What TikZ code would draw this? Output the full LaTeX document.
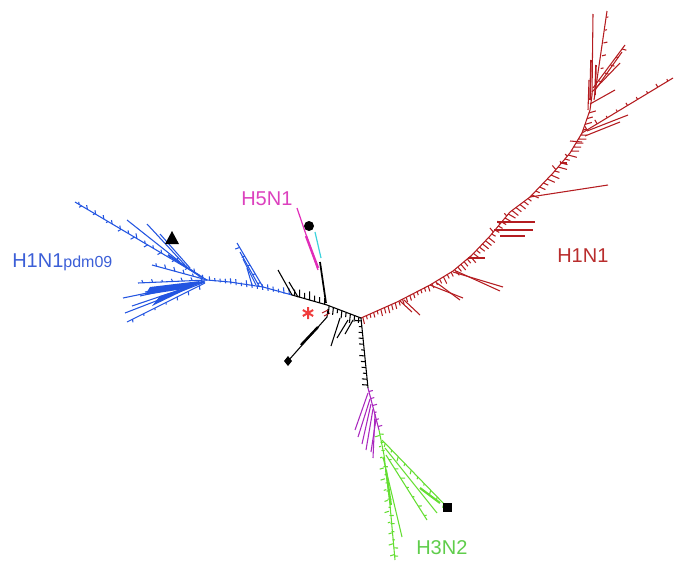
\documentclass[tikz,border=0pt]{standalone}
\usepackage{fontspec}
\setmainfont{Liberation Sans}
\usetikzlibrary{calc}
\definecolor{tred}{RGB}{180,28,32}
\definecolor{lred}{RGB}{185,45,45}
\definecolor{tblue}{RGB}{35,85,225}
\definecolor{lblue}{RGB}{60,95,215}
\definecolor{tmag}{RGB}{225,45,185}
\definecolor{lmag}{RGB}{220,65,190}
\definecolor{tcyan}{RGB}{60,210,220}
\definecolor{tpur}{RGB}{170,40,190}
\definecolor{tgreen}{RGB}{100,222,50}
\definecolor{lgreen}{RGB}{95,205,75}
\definecolor{tast}{RGB}{240,60,60}
\pgfmathsetseed{7}
\newcommand\tickrow[6]{%
  \foreach \ii in {1,...,#3}{%
    \pgfmathsetmacro\tkt{(\ii-0.5)/#3}%
    \pgfmathsetmacro\tkl{#4*(0.6+0.8*rnd)}%
    \path ($(#1)!\tkt!(#2)$) coordinate (tkp);%
    \draw[#6] (tkp) -- ($(tkp)!\tkl pt!#5:(#2)$);%
  }}
\begin{document}
\begin{tikzpicture}[x=0.75pt,y=-0.75pt,
  rbr/.style={draw=tred,line width=0.8pt},
  bbr/.style={draw=tblue,line width=0.8pt},
  kbr/.style={draw=black,line width=0.8pt},
  mbr/.style={draw=tmag,line width=0.9pt},
  cbr/.style={draw=tcyan,line width=0.9pt},
  pbr/.style={draw=tpur,line width=0.8pt},
  gbr/.style={draw=tgreen,line width=0.8pt},
  lab/.style={font=\fontsize{15}{18}\selectfont, inner sep=0pt, anchor=base west}]
\useasboundingbox (0,0) rectangle (674,561);

% ---------------- red H1N1 clade
\coordinate (R0) at (361,318);
\coordinate (R1) at (397,302);
\coordinate (R2) at (430,285);
\coordinate (R3) at (453,271);
\coordinate (R4) at (472,255);
\coordinate (R5) at (490,236);
\coordinate (R6) at (510,212);
\coordinate (R7) at (530,197);
\coordinate (R8) at (553,173);
\coordinate (R9) at (570,153);
\coordinate (R10) at (582,133);
\coordinate (R11) at (590,110);
\coordinate (R12) at (592,95);
\coordinate (R13) at (593,14);
\draw[rbr] (R0)--(R1)--(R2)--(R3)--(R4)--(R5)--(R6)--(R7)--(R8)--(R9)--(R10)--(R11)--(R12)--(R13);
\tickrow{R0}{R1}{10}{4}{-100}{rbr}
\tickrow{R1}{R2}{9}{4}{-100}{rbr}
\tickrow{R2}{R3}{6}{4.5}{-95}{rbr}
\tickrow{R3}{R4}{6}{4.5}{-90}{rbr}
\tickrow{R4}{R5}{6}{4.5}{-85}{rbr}
\tickrow{R5}{R6}{6}{4.5}{-80}{rbr}
\tickrow{R6}{R7}{5}{4.5}{-75}{rbr}
\tickrow{R7}{R8}{6}{5}{-70}{rbr}
\tickrow{R8}{R9}{5}{5}{-65}{rbr}
\tickrow{R9}{R10}{5}{5}{-60}{rbr}
\tickrow{R10}{R11}{4}{4}{-55}{rbr}
\tickrow{R5}{R6}{3}{3}{80}{rbr}
\tickrow{R8}{R9}{3}{3}{80}{rbr}
% longer red side branches
\draw[rbr] (404,300)--(420,315);
\draw[rbr] (400,301)--(412,312);
\draw[rbr] (430,285)--(463,298);
\draw[rbr] (437,283)--(460,300);
\draw[rbr] (453,272)--(503,287);
\draw[rbr] (456,271)--(500,291);
\draw[rbr] (468,258)--(485,258);
\draw[rbr] (497,222)--(535,222);
\draw[rbr] (494,230)--(533,230);
\draw[rbr] (500,236)--(525,236);
\draw[rbr] (R7)--(608,185);
\draw[rbr] (560,163)--(567,163);
\draw[rbr] (570,141)--(582,142);
% top fan
\draw[rbr] (582,133)--(673,78);
\draw[rbr] (587,131)--(628,115);
\draw[rbr] (585,136)--(620,122);
\draw[rbr] (590,104)--(615,90);
\draw[rbr] (592,92)--(620,63);
\draw[rbr] (593,88)--(625,45);
\draw[rbr] (595,90)--(622,52);
\draw[rbr] (594,100)--(607,11);
\draw[rbr,line width=1.2pt] (590,100)--(591,60);
\draw[rbr,line width=1.2pt] (595,95)--(596,65);
\draw[rbr] (588,110)--(589,80);
\tickrow{600,75}{607,11}{5}{2.5}{-70}{rbr}
\tickrow{596,85}{625,45}{5}{2.5}{-70}{rbr}
\tickrow{582,133}{673,78}{9}{2.5}{90}{rbr}

% ---------------- blue H1N1pdm09 clade
\coordinate (B0) at (292,295);
\coordinate (B1) at (263,287);
\coordinate (B2) at (230,282);
\coordinate (B3) at (207,280);
\draw[bbr] (B0)--(B1)--(B2)--(B3);
\tickrow{B0}{B3}{16}{4}{-75}{bbr}
\draw[bbr] (B1)--(237,243);
\draw[bbr] (259,286)--(240,252);
\draw[bbr] (256,285)--(243,259);
\draw[bbr] (252,285)--(247,268);
\tickrow{B1}{237,243}{5}{2.5}{80}{bbr}
% upper-left long branch
\draw[bbr] (B3)--(75,202);
\draw[bbr] (180,262)--(127,220);
\draw[bbr] (185,265)--(147,224);
\draw[bbr] (190,268)--(160,234);
\draw[bbr,line width=1.4pt] (200,276)--(168,255);
\tickrow{B3}{75,202}{16}{3}{-50}{bbr}
\tickrow{B3}{75,202}{10}{2.5}{60}{bbr}
% lower fan
\draw[bbr] (B3)--(152,265);
\draw[bbr] (B3)--(138,283);
\draw[bbr] (205,281)--(123,298);
\draw[bbr] (205,282)--(125,313);
\draw[bbr] (205,283)--(127,322);
\draw[bbr] (203,282)--(132,306);
\draw[bbr] (203,282)--(145,292);
\draw[bbr] (203,282)--(140,296);
\fill[tblue] (200,281)--(150,287)--(145,295)--(190,288)--cycle;
\fill[tblue] (195,285)--(160,296)--(152,306)--(185,290)--cycle;
\tickrow{B3}{152,265}{6}{2.5}{-60}{bbr}
\tickrow{B3}{138,283}{7}{2.5}{-70}{bbr}
\tickrow{205,283}{127,322}{7}{2.5}{70}{bbr}

% ---------------- black backbone
\coordinate (H) at (327,305);
\draw[kbr] (B0)--(H);
\tickrow{H}{B0}{7}{5}{-75}{kbr}
\draw[kbr] (B0)--(278,270);
\draw[kbr] (298,297)--(289,282);
% up to H5N1
\draw[kbr,line width=1.3pt] (326,303)--(320,262);
\draw[mbr] (297,208)--(318,270);
\draw[mbr,line width=1.8pt] (306,236)--(318,268);
\draw[cbr] (315,232)--(321,258);
% diamond branch
\draw[kbr] (327,317)--(288,361);
\draw[kbr,line width=1.8pt] (301,345)--(318,327);
\draw[kbr] (328,309)--(327,317);
% red small ticks near hub
\draw[rbr] (322,313)--(328,310);
\draw[rbr] (324,316)--(330,313);
% hub to red
\draw[kbr] (H)--(R0);
\tickrow{H}{R0}{8}{5}{-75}{kbr}
\draw[kbr] (340,318)--(331,346);
\draw[kbr] (348,320)--(337,338);
\draw[kbr] (353,320)--(345,334);
% vertical down
\coordinate (K1) at (368,388);
\draw[kbr] (R0)--(K1);
\tickrow{R0}{K1}{12}{3.5}{-100}{kbr}

% ---------------- purple
\coordinate (P1) at (379,430);
\draw[pbr] (K1)--(P1);
\draw[pbr] (368,393)--(355,430);
\draw[pbr] (370,399)--(358,437);
\draw[pbr] (371,404)--(362,444);
\draw[pbr] (373,409)--(366,450);
\draw[pbr] (375,414)--(373,458);
\draw[pbr] (376,419)--(371,452);
\tickrow{K1}{P1}{6}{2.5}{90}{pbr}

% ---------------- green H3N2 clade
\coordinate (G1) at (395,560);
\draw[gbr] (P1)--(384,455)--(390,505)--(G1);
\draw[gbr,line width=1.5pt] (386,470)--(391,505);
\tickrow{P1}{G1}{16}{2.5}{80}{gbr}
\tickrow{P1}{G1}{12}{2.5}{-80}{gbr}
\draw[gbr] (382,440)--(447,507);
\draw[gbr] (385,448)--(437,513);
\draw[gbr] (386,455)--(427,520);
\draw[gbr] (383,457)--(402,537);
\draw[gbr,line width=1.6pt] (420,488)--(440,503);
\tickrow{382,440}{447,507}{10}{2.5}{-60}{gbr}
\tickrow{386,455}{427,520}{7}{2.5}{60}{gbr}

% ---------------- markers
\fill (172,231)--(179,244)--(165,244)--cycle;
\fill (309,226) circle (5);
\fill (442.5,502.5) rectangle (451.5,511.5);
\fill (288,356)--(292,361)--(288,366)--(284,361)--cycle;
\draw[tast,line width=1.5pt] (308,307)--(308,319) (302.8,310)--(313.2,316) (302.8,316)--(313.2,310);

% ---------------- labels
\node[lab,text=lblue] (lpdm) at (12,267) {H1N1{\fontsize{12}{14}\selectfont pdm09}};
\node[lab,text=lmag] (lh5) at (241,205) {H5N1};
\node[lab,text=lred] (lh1) at (557,262) {H1N1};
\node[lab,text=lgreen] (lh3) at (416,554) {H3N2};
\end{tikzpicture}
\end{document}
